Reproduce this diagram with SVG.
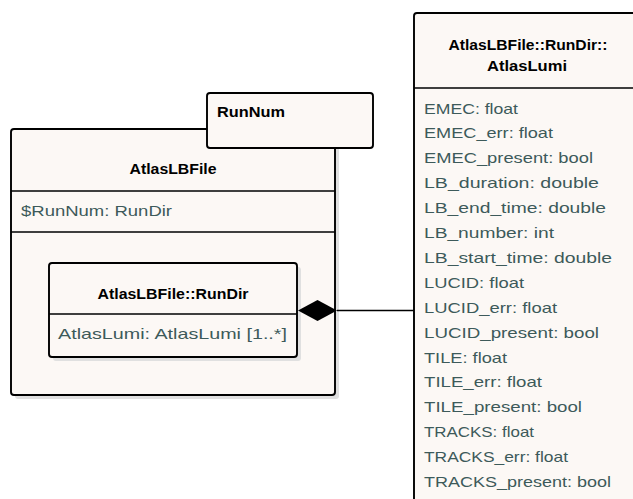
<svg xmlns="http://www.w3.org/2000/svg" width="633" height="499" viewBox="0 0 633 499">
  <defs>
    <style>
      .box { fill: #fcf8f5; stroke: #000; stroke-width: 1.9; }
      .shadow { fill: #e0e0e0; }
      .sep { stroke: #000; stroke-width: 1.5; fill: none; }
      .title { font-family: "Liberation Sans", Arial, sans-serif; font-size: 14.5px; font-weight: bold; fill: #000; }
      .attr { font-family: "Liberation Sans", Arial, sans-serif; font-size: 15px; fill: #3d5a5a; }
      .conn { stroke: #000; stroke-width: 1.4; fill: none; }
    </style>
    <marker id="composite" markerUnits="userSpaceOnUse" markerWidth="40" markerHeight="22" refX="0" refY="11" orient="auto">
      <path d="M0,11 L19.5,0.5 L39,11 L19.5,21.5 Z" fill="#000"/>
    </marker>
  </defs>

  <rect width="633" height="499" fill="#fff"/>

  <!-- AtlasLBFile class with nested RunDir -->
  <g id="AtlasLBFile">
    <rect class="shadow" x="15" y="133" width="324" height="266" rx="3"/>
    <rect class="box" x="11" y="129" width="324" height="266" rx="3"/>
    <text class="title" x="173" y="174" text-anchor="middle" textLength="87" lengthAdjust="spacingAndGlyphs">AtlasLBFile</text>
    <line class="sep" x1="11" y1="191" x2="335" y2="191"/>
    <text class="attr" x="21" y="216" textLength="151" lengthAdjust="spacingAndGlyphs">$RunNum: RunDir</text>
    <line class="sep" x1="11" y1="232" x2="335" y2="232"/>
  </g>

  <g id="RunNum">
    <rect class="box" x="207" y="93" width="166" height="55" rx="3"/>
    <text class="title" x="217" y="117" textLength="68" lengthAdjust="spacingAndGlyphs">RunNum</text>
  </g>

  <g id="RunDir">
    <rect class="shadow" x="53" y="267" width="248" height="94" rx="3"/>
    <rect class="box" x="49" y="263" width="248" height="94" rx="3"/>
    <text class="title" x="173" y="299" text-anchor="middle" textLength="151" lengthAdjust="spacingAndGlyphs">AtlasLBFile::RunDir</text>
    <line class="sep" x1="49" y1="314" x2="297" y2="314"/>
    <text class="attr" x="58" y="339" textLength="229" lengthAdjust="spacingAndGlyphs">AtlasLumi: AtlasLumi [1..*]</text>
  </g>

  <!-- AtlasLumi class, partly beyond the right and bottom edges -->
  <g id="AtlasLumi">
    <rect class="box" x="414" y="13" width="240" height="510" rx="3"/>
    <text class="title" x="528" y="50" text-anchor="middle" textLength="159" lengthAdjust="spacingAndGlyphs">AtlasLBFile::RunDir::</text>
    <text class="title" x="527" y="71" text-anchor="middle" textLength="80" lengthAdjust="spacingAndGlyphs">AtlasLumi</text>
    <line class="sep" x1="414" y1="88" x2="633" y2="88"/>
    <text class="attr" x="424" y="113.5" textLength="94" lengthAdjust="spacingAndGlyphs">EMEC: float</text>
    <text class="attr" x="424" y="138.4" textLength="129" lengthAdjust="spacingAndGlyphs">EMEC_err: float</text>
    <text class="attr" x="424" y="163.3" textLength="169" lengthAdjust="spacingAndGlyphs">EMEC_present: bool</text>
    <text class="attr" x="424" y="188.2" textLength="175" lengthAdjust="spacingAndGlyphs">LB_duration: double</text>
    <text class="attr" x="424" y="213.1" textLength="182" lengthAdjust="spacingAndGlyphs">LB_end_time: double</text>
    <text class="attr" x="424" y="238" textLength="130" lengthAdjust="spacingAndGlyphs">LB_number: int</text>
    <text class="attr" x="424" y="262.9" textLength="188" lengthAdjust="spacingAndGlyphs">LB_start_time: double</text>
    <text class="attr" x="424" y="287.8" textLength="100" lengthAdjust="spacingAndGlyphs">LUCID: float</text>
    <text class="attr" x="424" y="312.7" textLength="133" lengthAdjust="spacingAndGlyphs">LUCID_err: float</text>
    <text class="attr" x="424" y="337.6" textLength="175" lengthAdjust="spacingAndGlyphs">LUCID_present: bool</text>
    <text class="attr" x="424" y="362.5" textLength="83" lengthAdjust="spacingAndGlyphs">TILE: float</text>
    <text class="attr" x="424" y="387.4" textLength="118" lengthAdjust="spacingAndGlyphs">TILE_err: float</text>
    <text class="attr" x="424" y="412.3" textLength="158" lengthAdjust="spacingAndGlyphs">TILE_present: bool</text>
    <text class="attr" x="424" y="437.2" textLength="110" lengthAdjust="spacingAndGlyphs">TRACKS: float</text>
    <text class="attr" x="424" y="462.1" textLength="144" lengthAdjust="spacingAndGlyphs">TRACKS_err: float</text>
    <text class="attr" x="424" y="487" textLength="187" lengthAdjust="spacingAndGlyphs">TRACKS_present: bool</text>
  </g>

  <!-- composition: RunDir owns AtlasLumi -->
  <g id="connectors">
    <path class="conn" d="M414,310.5 L337,310.5" marker-end="url(#composite)"/>
  </g>
</svg>
